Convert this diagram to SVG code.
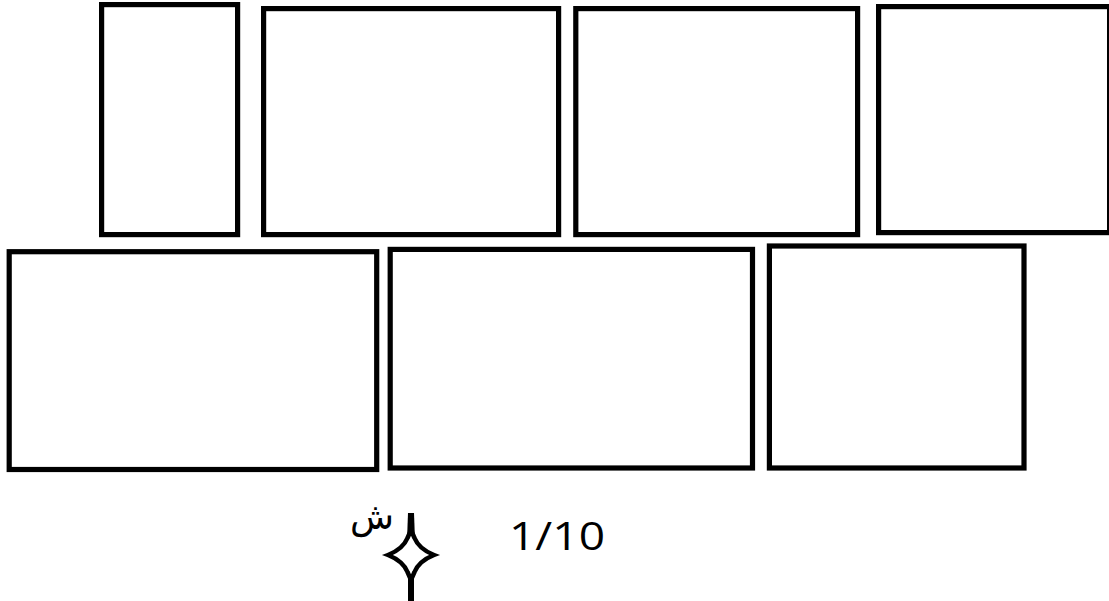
<svg xmlns="http://www.w3.org/2000/svg" width="1109" height="601" viewBox="0 0 1109 601">
<style>
.room{fill:#fff;stroke:#000;stroke-width:5.2}
.lbl{font-family:"Open Sans","DejaVu Sans",sans-serif;fill:#000}
</style>
<rect width="1109" height="601" fill="#fff"/>
<g id="room1"><rect class="room" x="101.6" y="4.6" width="136" height="230"/></g>
<g id="room2"><rect class="room" x="263.6" y="8.6" width="295" height="226"/></g>
<g id="room3"><rect class="room" x="575.8" y="8.6" width="281.8" height="226"/></g>
<g id="room4"><rect class="room" x="878.6" y="6.6" width="231" height="226"/></g>
<g id="room5"><rect class="room" x="9.2" y="251.7" width="367.5" height="217.8"/></g>
<g id="room6"><rect class="room" x="390.2" y="249.4" width="362.3" height="218.6"/></g>
<g id="room7"><rect class="room" x="769.4" y="246" width="254.6" height="222"/></g>
<g id="north">
<path d="M408,513 L414,513 L415,540 L407,540 Z" fill="#000"/>
<rect x="408" y="568" width="6" height="33" fill="#000"/>
<path d="M411,530 L414.5,538 Q419,549 434,555 Q419,561 414.5,572 L411,580 L407.5,572 Q403,561 388,555 Q403,549 407.5,538 Z" fill="#fff" stroke="#000" stroke-width="4.5" stroke-linejoin="miter" stroke-miterlimit="3"/>
<text x="394" y="529" text-anchor="end" font-size="36" style="font-family:'DejaVu Sans',sans-serif" fill="#000">ش</text>
</g>
<g id="scale"><text class="lbl" x="509" y="550" font-size="39" font-weight="500" textLength="96" lengthAdjust="spacingAndGlyphs">1/10</text></g>
</svg>
